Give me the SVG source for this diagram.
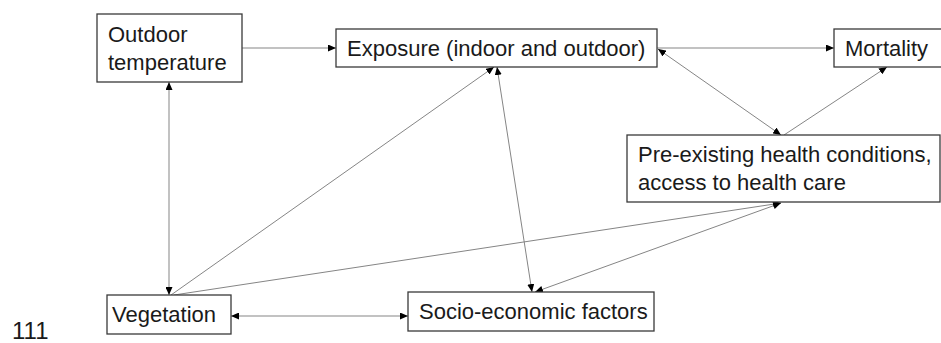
<svg xmlns="http://www.w3.org/2000/svg" width="941" height="343" viewBox="0 0 941 343">
<style>
.box{fill:#fff;stroke:#3a3a3a;stroke-width:1.3}
.t{font-family:"Liberation Sans",Arial,sans-serif;font-size:22px;fill:#1a1a1a}
.c{stroke:#858585;stroke-width:1;fill:none;marker-end:url(#ah)}
.d{marker-start:url(#ah)}
</style>
<defs>
<marker id="ah" viewBox="0 0 8 7" refX="8" refY="3.5" markerWidth="8" markerHeight="7" markerUnits="userSpaceOnUse" orient="auto-start-reverse">
<path d="M0,0 L8,3.5 L0,7 z" fill="#000"/>
</marker>
</defs>
<rect width="941" height="343" fill="#fff"/>
<g id="connectors">
<line class="c" x1="242" y1="48" x2="336" y2="48"/>
<line class="c" x1="657" y1="48" x2="834" y2="48"/>
<line class="c d" x1="658" y1="49" x2="781" y2="135"/>
<line class="c" x1="784" y1="135" x2="887" y2="67"/>
<line class="c d" x1="169" y1="82" x2="169" y2="295"/>
<line class="c" x1="171" y1="295" x2="494" y2="67"/>
<line class="c d" x1="497" y1="67" x2="532" y2="292"/>
<line class="c" x1="174" y1="295" x2="781" y2="203"/>
<line class="c d" x1="535" y1="292" x2="781" y2="203"/>
<line class="c d" x1="231" y1="316" x2="408" y2="316"/>
</g>
<g id="outdoor">
<rect class="box" x="97" y="14" width="145" height="68"/>
<text class="t" x="108" y="42">Outdoor</text>
<text class="t" x="108" y="70">temperature</text>
</g>
<g id="exposure">
<rect class="box" x="336" y="29" width="321" height="38"/>
<text class="t" x="347" y="56">Exposure (indoor and outdoor)</text>
</g>
<g id="mortality">
<rect class="box" x="834" y="29" width="115" height="38"/>
<text class="t" x="845" y="56">Mortality</text>
</g>
<g id="preexisting">
<rect class="box" x="627" y="135" width="313" height="67"/>
<text class="t" x="638" y="162">Pre-existing health conditions,</text>
<text class="t" x="638" y="190">access to health care</text>
</g>
<g id="vegetation">
<rect class="box" x="107" y="295" width="124" height="39"/>
<text class="t" x="112" y="322">Vegetation</text>
</g>
<g id="socio">
<rect class="box" x="408" y="292" width="246" height="39"/>
<text class="t" x="419" y="319">Socio-economic factors</text>
</g>
<text class="t" x="12" y="339" style="font-size:24px">111</text>
</svg>
